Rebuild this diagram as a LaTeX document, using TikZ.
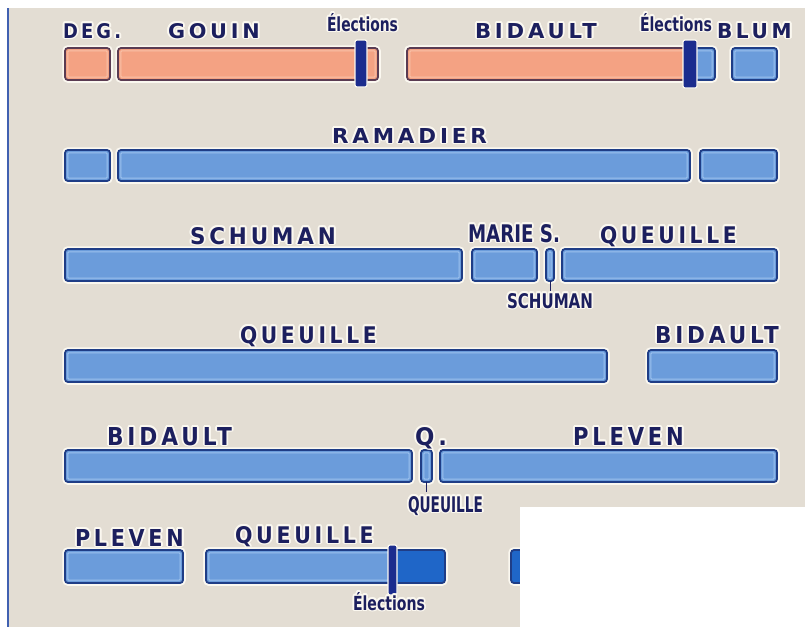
\documentclass[tikz,border=0pt]{standalone}
\usepackage{fontspec}
\setmainfont{DejaVu Sans}
\newfontfamily\bigf{DejaVu Sans}[LetterSpace=18]
\newfontfamily\smf{DejaVu Sans}
\usetikzlibrary{calc}
\definecolor{bgc}{HTML}{E3DDD3}
\definecolor{halo}{HTML}{FBF8F0}
\definecolor{bfill}{HTML}{6B9CDB}
\definecolor{bhi}{HTML}{9DC2EE}
\definecolor{bdark}{HTML}{1F3D86}
\definecolor{ofill}{HTML}{F4A283}
\definecolor{ohi}{HTML}{F9C2A8}
\definecolor{odark}{HTML}{5A3B52}
\definecolor{dfill}{HTML}{1F66C8}
\definecolor{mark}{HTML}{1B2C8E}
\definecolor{txt}{HTML}{1C1F5E}
\definecolor{edge}{HTML}{4060B0}
\tikzset{
  bluebar/.style={rounded corners=3pt, fill=bfill, draw=bdark, line width=1.8pt, inner sep=0pt, outer sep=0pt, preaction={draw=halo, line width=5.5pt}},
  orangebar/.style={rounded corners=3pt, fill=ofill, draw=odark, line width=1.8pt, inner sep=0pt, outer sep=0pt, preaction={draw=halo, line width=5.5pt}},
  darkbar/.style={rounded corners=3pt, fill=dfill, draw=bdark, line width=1.8pt, inner sep=0pt, outer sep=0pt, preaction={draw=halo, line width=5.5pt}},
  bluebarhi/.style={draw=bhi, line width=1pt, rounded corners=1pt},
  orangebarhi/.style={draw=ohi, line width=1pt, rounded corners=1pt},
  darkbarhi/.style={draw=dfill, line width=0pt},
  markbar/.style={rounded corners=2pt, fill=mark, draw=halo, line width=1.2pt, inner sep=0pt, outer sep=0pt},
  lbl/.style={inner sep=0pt, outer sep=0pt, anchor=base west, text=txt},
  lblhalo/.style={inner sep=0pt, outer sep=0pt, anchor=base west, text=halo},
  tickline/.style={draw=txt, line width=1pt},
}
% bar: name, style, x1, y1, x2, y2
\newcommand\ebar[6]{%
  \node[#2, anchor=north west, minimum width=\dimexpr#5pt-#3pt\relax, minimum height=\dimexpr#6pt-#4pt\relax] (#1) at (#3,#4) {};
  \draw[#2hi] ([shift={(2.8pt,-2.8pt)}]#1.north west) rectangle ([shift={(-2.8pt,2.8pt)}]#1.south east);
}
\newcommand\emark[5]{%
  \node[markbar, anchor=north west, minimum width=\dimexpr#4pt-#2pt\relax, minimum height=\dimexpr#5pt-#3pt\relax] (#1) at (#2,#3) {};
}
% label: name, x1, x2, ytop, ybase, text
\newcommand\lab[6]{%
  \def\labbox{\resizebox{\dimexpr#3pt-#2pt\relax}{\dimexpr#5pt-#4pt\relax}{\bigf\bfseries #6\kern-.18em}}%
  \foreach \a in {0,30,...,330}{\node[lblhalo] at ([shift={(\a:1.9pt)}]#2,#5) {\labbox};}%
  \node[lbl] (#1) at (#2,#5) {\labbox};
}
\newcommand\labs[6]{%
  \def\labbox{\resizebox{\dimexpr#3pt-#2pt\relax}{\dimexpr#5pt-#4pt\relax}{\smf\bfseries #6}}%
  \foreach \a in {0,30,...,330}{\node[lblhalo] at ([shift={(\a:1.6pt)}]#2,#5) {\labbox};}%
  \node[lbl] (#1) at (#2,#5) {\labbox};
}
\begin{document}
\begin{tikzpicture}[x=1pt,y=-1pt]
\useasboundingbox (0,0) rectangle (805,627);
\fill[white] (0,0) rectangle (805,627);
\fill[bgc] (9,8) rectangle (805,627);
\fill[edge] (7,8) rectangle (9,627);

% Row 1
\ebar{bDeg}{orangebar}{65}{48}{110}{80}
\ebar{bGouin}{orangebar}{118}{48}{378}{80}
\ebar{bBidB}{bluebar}{407}{48}{715}{80}
\ebar{bBid}{orangebar}{407}{48}{690}{80}
\ebar{bBlum}{bluebar}{732}{48}{777}{80}
\emark{m1}{355}{40}{367}{87}
\emark{m2}{683}{40}{697}{88}

% Row 2
\ebar{bR1}{bluebar}{65}{150}{110}{181}
\ebar{bR2}{bluebar}{118}{150}{690}{181}
\ebar{bR3}{bluebar}{700}{150}{777}{181}

% Row 3
\ebar{bS1}{bluebar}{65}{249}{462}{281}
\ebar{bM}{bluebar}{472}{249}{537}{281}
\ebar{bS2}{bluebar}{546}{249}{554}{281}
\ebar{bQ1}{bluebar}{562}{249}{777}{281}

% Row 4
\ebar{bQ2}{bluebar}{65}{350}{607}{382}
\ebar{bB2}{bluebar}{648}{350}{777}{382}

% Row 5
\ebar{bB3}{bluebar}{65}{450}{412}{482}
\ebar{bQs}{bluebar}{421}{450}{432}{482}
\ebar{bP1}{bluebar}{440}{450}{777}{482}

% Row 6
\ebar{bP2}{bluebar}{65}{550}{183}{583}
\ebar{bQ3d}{darkbar}{206}{550}{445}{583}
\ebar{bQ3}{bluebar}{206}{550}{392}{583}
\ebar{bX}{darkbar}{511}{550}{580}{583}
\emark{m3}{388}{545}{397}{595}

% tick lines
\draw[tickline] (bS2.south) -- ([yshift=-10pt]bS2.south);
\draw[tickline] (bQs.south) -- ([yshift=-10pt]bQs.south);

% Labels
\lab{lDeg}{63}{118}{23}{38}{DEG.}
\lab{lGouin}{168}{256}{23}{38}{GOUIN}
\labs{lEl1}{327}{398}{13}{31}{Élections}
\lab{lBid1}{475}{593}{23}{38}{BIDAULT}
\labs{lEl2}{640}{712}{13}{31}{Élections}
\lab{lBlum}{717}{788}{23}{38}{BLUM}
\lab{lRam}{332}{483}{128}{143}{RAMADIER}
\lab{lSch}{190}{332}{227}{244}{SCHUMAN}
\labs{lMarie}{468}{560}{224}{242}{MARIE S.}
\lab{lQue1}{600}{733}{226}{243}{QUEUILLE}
\labs{lSchs}{507}{593}{293}{308}{SCHUMAN}
\lab{lQue2}{240}{373}{326}{343}{QUEUILLE}
\lab{lBid2}{655}{775}{326}{343}{BIDAULT}
\lab{lBid3}{107}{228}{427}{445}{BIDAULT}
\lab{lQ}{415}{443}{427}{445}{Q.}
\lab{lPlev1}{573}{680}{427}{445}{PLEVEN}
\labs{lQues}{408}{483}{496}{512}{QUEUILLE}
\lab{lPlev2}{75}{180}{529}{546}{PLEVEN}
\lab{lQue3}{235}{370}{526}{543}{QUEUILLE}
\labs{lEl3}{353}{425}{592}{610}{Élections}

% white cover
\fill[white] (520,507) rectangle (805,627);
\end{tikzpicture}
\end{document}
